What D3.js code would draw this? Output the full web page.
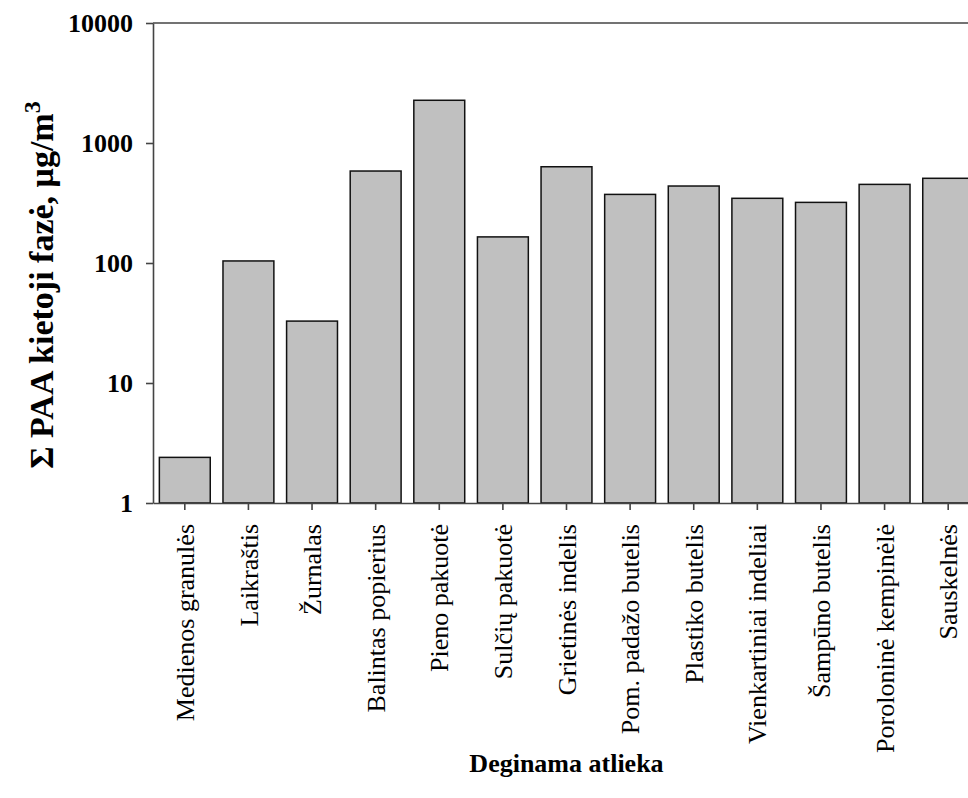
<!DOCTYPE html>
<html>
<head>
<meta charset="utf-8">
<script src="https://cdn.jsdelivr.net/npm/d3@7"></script>
<style>
  body { margin: 0; background: #fff; }
  svg { display: block; }
  svg text { font-family: "Liberation Serif", "Times New Roman", serif; }
</style>
</head>
<body>
<script>
(function(){

    const
        svgWidth = 968,
        svgHeight = 798;

    // categories and values (log scale)
    const categories = [
        "Medienos granulės", "Laikraštis", "Žurnalas", "Balintas popierius",
        "Pieno pakuotė", "Sulčių pakuotė", "Grietinės indelis", "Pom. padažo butelis",
        "Plastiko butelis", "Vienkartiniai indeliai", "Šampūno butelis",
        "Poroloninė kempinėlė", "Sauskelnės"
    ];
    const values = [2.4, 104, 32.8, 584, 2270, 165, 634, 373, 438, 346, 320, 452, 508];
    const yTicks = [1, 10, 100, 1000, 10000];

    const chartMargin = { top: 23, left: 153 };
    const chartWidth = 827;   // plot runs past the right edge of the picture
    const chartHeight = 480;

    const svg = d3.select("body")
        .append("svg")
        .attr("width", svgWidth)
        .attr("height", svgHeight);

    const chartGroup = svg.append("g")
        .attr("transform", `translate(${chartMargin.left}, ${chartMargin.top})`);

    const xBand = d3.scaleBand()
        .domain(categories)
        .range([0, chartWidth])
        .paddingInner(0.2)
        .paddingOuter(0.1);

    const yLog = d3.scaleLog()
        .domain([1, 10000])
        .range([chartHeight, 0]);

    // bars
    chartGroup.selectAll("rect.bar")
        .data(values)
        .enter()
        .append("rect")
        .attr("class", "bar")
        .attr("x", (d, i) => xBand(categories[i]))
        .attr("width", xBand.bandwidth())
        .attr("y", d => yLog(d))
        .attr("height", d => chartHeight - yLog(d))
        .attr("fill", "#c0c0c0")
        .attr("stroke", "#111")
        .attr("stroke-width", 1.5);

    // top frame line
    chartGroup.append("line")
        .attr("x1", 0).attr("x2", chartWidth)
        .attr("y1", 0).attr("y2", 0)
        .attr("stroke", "#444")
        .attr("stroke-width", 1.6);

    const leftAxis = d3.axisLeft(yLog)
        .tickValues(yTicks)
        .tickFormat(d3.format("d"))
        .tickSize(7)
        .tickSizeOuter(0)
        .tickPadding(13);

    const bottomAxis = d3.axisBottom(xBand)
        .tickSize(7)
        .tickSizeOuter(0);

    const yAxisG = chartGroup.append("g").call(leftAxis)
        .attr("font-family", null);
    yAxisG.selectAll("text")
        .attr("font-size", 26)
        .attr("font-weight", "bold")
        .attr("fill", "#000");

    const xAxisG = chartGroup.append("g")
        .attr("transform", `translate(0, ${chartHeight})`)
        .call(bottomAxis)
        .attr("font-family", null);
    xAxisG.selectAll("text")
        .attr("transform", "rotate(-90)")
        .attr("x", -21)
        .attr("y", 0)
        .attr("dy", "0.35em")
        .style("text-anchor", "end")
        .attr("font-size", 26)
        .attr("fill", "#000");

    svg.selectAll(".domain, .tick line")
        .attr("stroke", "#444")
        .attr("stroke-width", 1.6);

    // axis titles
    const yTitle = svg.append("text")
        .attr("transform", `translate(53, ${chartMargin.top + 262}) rotate(-90)`)
        .attr("text-anchor", "middle")
        .attr("font-size", 34)
        .attr("font-weight", "bold");
    yTitle.append("tspan").text("Σ PAA kietoji fazė, μg/m");
    yTitle.append("tspan")
        .attr("baseline-shift", "super")
        .attr("font-size", 24)
        .text("3");

    svg.append("text")
        .attr("x", chartMargin.left + chartWidth / 2)
        .attr("y", 772)
        .attr("text-anchor", "middle")
        .attr("font-size", 26)
        .attr("font-weight", "bold")
        .text("Deginama atlieka");

})();
</script>
</body>
</html>
